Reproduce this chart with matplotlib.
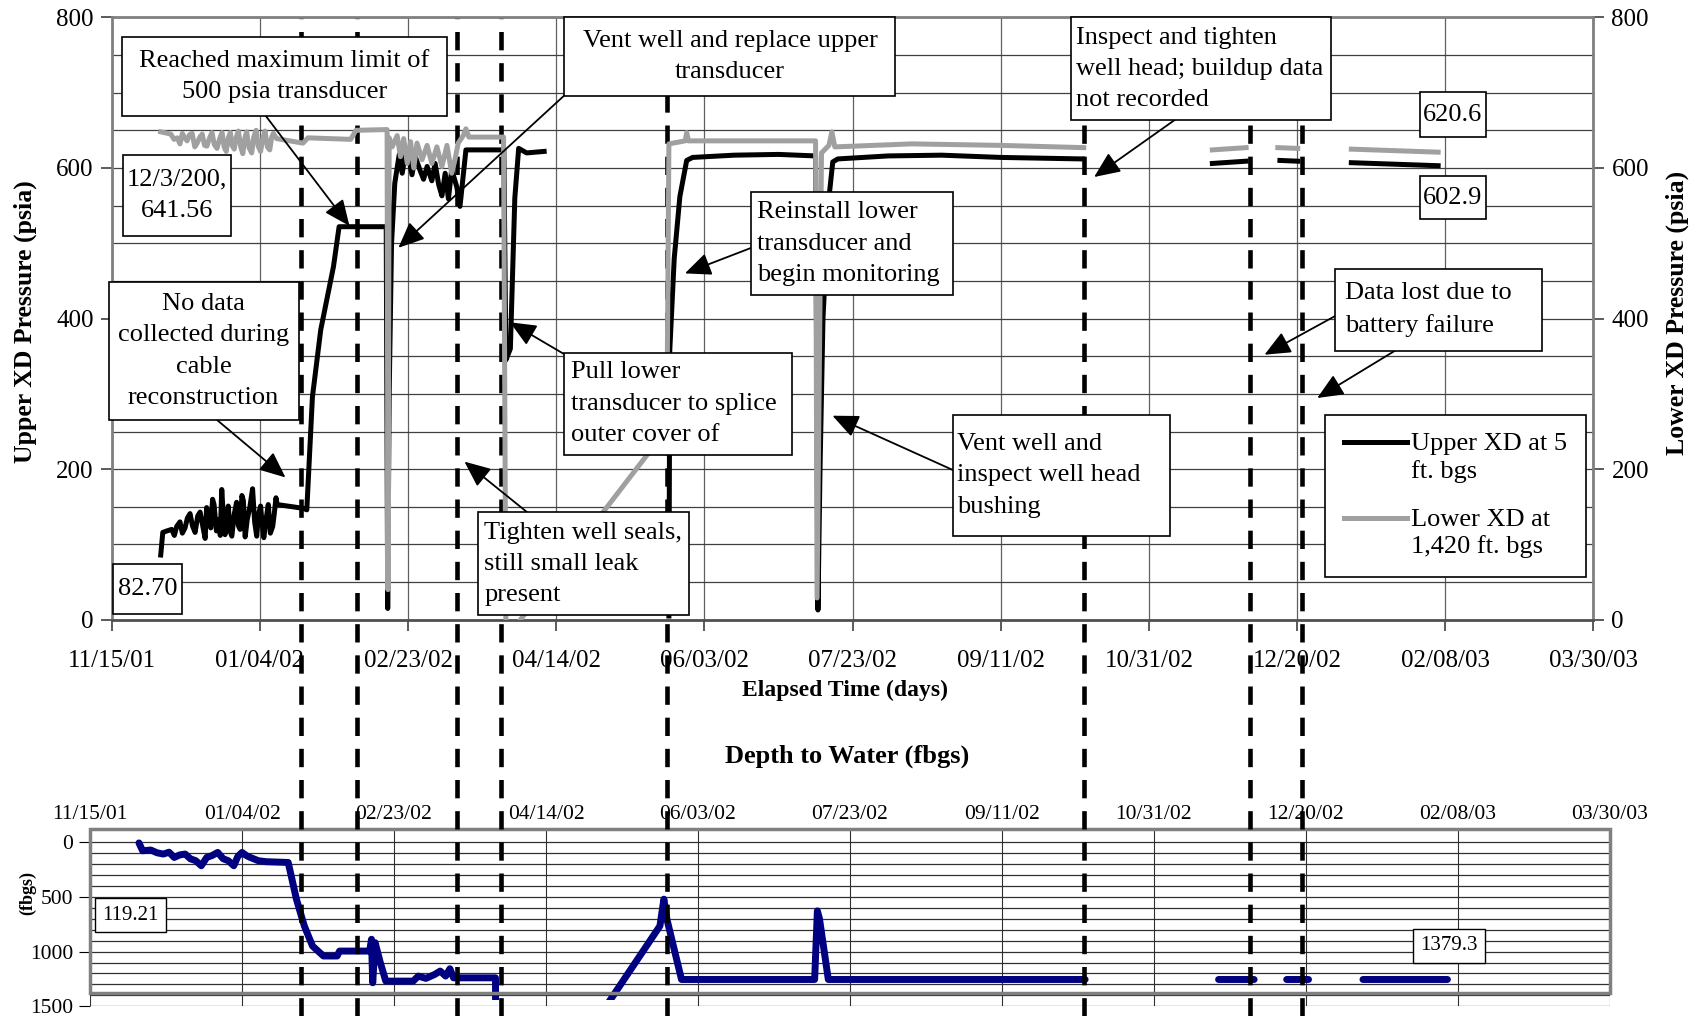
import numpy as np
import matplotlib.pyplot as plt
from matplotlib.lines import Line2D
from matplotlib.patches import Rectangle
from matplotlib.legend_handler import HandlerLine2D

plt.rcParams['font.family'] = ['Liberation Serif', 'DejaVu Serif']

nan = np.nan

# elapsed days since 11/15/01
date_labels = ['11/15/01', '01/04/02', '02/23/02', '04/14/02', '06/03/02', '07/23/02',
               '09/11/02', '10/31/02', '12/20/02', '02/08/03', '03/30/03']
date_ticks = list(range(0, 501, 50))

# Upper XD at 5 ft. bgs (psia)
upper_days = [16.5, 17.2, 18.6, 20.2, 21.1, 21.9, 23.0, 23.8, 24.7, 25.5, 26.4, 27.2, 28.1,
              29.0, 29.8, 30.9, 31.5, 32.0, 32.7, 33.4, 34.0, 34.5, 35.3, 36.0, 36.6, 37.1,
              37.6, 38.2, 38.8, 39.3, 39.9, 40.5, 41.3, 42.1, 42.7, 43.3, 43.9, 44.4, 45.0,
              45.7, 46.6, 47.5, 48.2, 48.9, 49.5, 50.2, 50.8, 51.3, 52.0, 52.8, 53.5, 54.3,
              54.8, 55.4, 55.8, 64.6, 65.8, 67.7, 70.5, 74.8, 76.7, 92.6, 93.1, 93.6,
              94.4, 95.5, 97.0, 98.0, 99.1, 100.2, 101.3, 102.4, 104.1, 105.2, 106.4, 108.0,
              109.1, 110.3, 111.4, 112.5, 113.6, 114.7, 116.4, 117.5, 119.5, 132.3, 133.0,
              134.5, 136.0, 137.3, 140.0, 145.9, nan,
              188.0, 188.3, 189.8, 191.7, 194.0, 196.0, 210.0, 225.0, 237.5, 238.3, 239.0,
              240.0, 242.0, 243.3, 245.0, 262.0, 280.0, 300.0, 327.5, nan,
              371.4, 382.8, nan, 394.2, 400.2, nan, 418.3, 447.6]
upper_psia = [86, 116, 118, 120, 112, 124, 130, 115, 122, 135, 141, 125, 116,
              138, 143, 120, 108, 149, 130, 122, 160, 153, 118, 133, 112, 173,
              140, 113, 128, 151, 118, 111, 140, 156, 125, 120, 165, 158, 110,
              133, 150, 174, 130, 111, 140, 151, 125, 109, 132, 153, 115, 124,
              140, 162, 153, 148, 146, 296, 385, 469, 522, 522, 15, 300,
              500, 580, 618, 593, 620, 615, 591, 615, 596, 585, 602, 583,
              606, 578, 563, 593, 559, 598, 575, 549, 624, 624, 345,
              360, 560, 626, 620, 622, nan,
              5, 358, 480, 562, 610, 614, 617, 618, 616, 13, 200,
              400, 560, 608, 612, 616, 617, 614, 612, nan,
              606, 609, nan, 610, 609, nan, 607, 603]

# Lower XD at 1,420 ft. bgs (psia)
lower_days = [16.5, 19.9, 21.0, 22.1, 23.0, 23.8, 24.6, 25.4, 26.2, 27.1, 28.0, 28.8, 29.7,
              30.5, 31.3, 32.1, 33.0, 33.8, 34.6, 35.5, 36.4, 37.2, 37.9, 38.6, 39.3, 40.0,
              40.6, 41.3, 42.0, 42.7, 43.5, 44.2, 44.9, 45.5, 46.3, 47.2, 47.9, 48.7, 49.4,
              50.2, 51.0, 51.7, 52.5, 53.3, 53.9, 54.5, 55.6, 64.5,
              66.2, 80.6, 82.4, 92.9, 93.2, 93.6, 94.6, 96.3, 97.4, 98.5, 99.7, 100.8, 101.9,
              103.0, 104.7, 106.4, 108.0, 109.7, 111.4, 113.1, 114.7, 115.8, 116.9, 118.6,
              119.5, 120.5, 132.2, 133.0, 187.3, 188.0, 193.5, 194.0, 194.6, 237.5, 238.0,
              239.5, 242.0, 243.0, 244.0, 270.0, 300.0, 328.0, nan,
              371.4, 382.8, nan, 393.5, 400.2, nan, 418.3, 447.6]
lower_psia = [648, 645, 638, 640, 632, 646, 640, 636, 644, 646, 628, 633, 641,
              645, 630, 629, 640, 647, 631, 626, 639, 647, 628, 622, 640, 647,
              630, 625, 641, 649, 628, 619, 640, 648, 627, 620, 641, 650, 629,
              622, 640, 649, 628, 624, 640, 646, 639, 633,
              640, 638, 650, 651, 40, 640, 628, 643, 615, 639, 606, 635, 600,
              633, 611, 630, 606, 628, 602, 630, 593, 611, 633, 643,
              652, 641, 641, -25, 253, 632, 636, 647, 636, 636, 29,
              620, 630, 648, 628, 632, 630, 627, nan,
              624, 627, nan, 627, 626, nan, 625, 621]

# Depth to water (fbgs)
depth_days = [16.1, 17.3, 20.0, 22.0, 24.1, 26.0, 27.7, 29.5, 31.3, 33.0, 34.8, 36.6, 38.4,
              40.2, 42.0, 43.8, 45.5, 47.3, 48.6, 50.0, 51.4, 52.7, 55.4, 58.0, 65.2, 67.9,
              70.5, 73.2, 76.8, 81.3, 82.1, 92.0, 92.6, 93.0, 93.8, 95.5, 97.3, 106.3, 108.0,
              110.5, 113.4, 115.2, 117.0, 118.4, 119.6, 133.4,
              133.6, 187.5, 188.8, 189.8, 194.6, 238.4, 239.3, 240.0, 242.9, 327.4, nan,
              371.3, 383.0, nan, 393.7, 400.9, nan, 418.8, 446.6]
depth_ft = [5, 77, 70, 95, 107, 90, 138, 115, 107, 150, 168, 214, 138,
            120, 92, 150, 168, 214, 130, 92, 120, 138, 168, 177, 184, 520,
            765, 949, 1040, 1040, 995, 995, 887, 1285, 918, 1100, 1270, 1270, 1224,
            1245, 1209, 1178, 1224, 1157, 1240, 1240,
            3000, 765, 520, 704, 1255, 1255, 627, 700, 1255, 1255, nan,
            1255, 1255, nan, 1255, 1255, nan, 1255, 1255]

# field events (days) marked with dashed lines
event_days = [63.7, 82.8, 116.5, 131.5, 187.2, 328.2, 384.2, 401.7]

fig = plt.figure(figsize=(17.02, 10.16), dpi=100)
ax_d = fig.add_axes([0.0529, 0.0096, 0.8929, 0.1742])
ax = fig.add_axes([0.0657, 0.3900, 0.8705, 0.5929])

# ---------------- pressure chart ----------------
ax.plot(upper_days, upper_psia, color='black', lw=3.6, zorder=3, solid_joinstyle='round')
ax.plot(lower_days, lower_psia, color='#a0a0a0', lw=3.6, zorder=4, solid_joinstyle='round')
ax.set_xlim(0, 500)
ax.set_ylim(0, 800)
ax.set_xticks(date_ticks)
ax.set_xticklabels(date_labels)
ax.set_yticks(range(0, 801, 200))
ax.set_yticks(range(0, 801, 50), minor=True)
ax.grid(which='both', axis='y', color='#404040', lw=0.9, zorder=0)
ax.grid(which='major', axis='x', color='#606060', lw=0.9, zorder=0)
ax.set_axisbelow(True)
ax.tick_params(which='minor', length=0)
ax.tick_params(which='major', direction='out', length=8, width=1.2, labelsize=18,
               right=True, labelright=True, color='#404040')
ax.tick_params(axis='x', pad=14)
ax.tick_params(axis='y', pad=5)
for s in ax.spines.values():
    s.set_color('#808080')
    s.set_linewidth(2)
ax.spines['bottom'].set_color('#505050')

for d in event_days:
    ax.axvline(d, ymin=-0.658, ymax=1, color='black', lw=3.3, ls=(0, (4, 2.8)),
               clip_on=False, zorder=2.5)

fig.text(0.4962, 0.3205, 'Elapsed Time (days)', ha='center', va='center',
         fontsize=17, fontweight='bold')
fig.text(0.0147, 0.683, 'Upper XD Pressure (psia)', rotation=90, ha='center', va='center',
         fontsize=18.5, fontweight='bold')
fig.text(0.9853, 0.692, 'Lower XD Pressure (psia)', rotation=90, ha='center', va='center',
         fontsize=18.5, fontweight='bold')

fs = 19
arrow = dict(arrowstyle='-|>,head_length=0.8,head_width=0.35', color='black', lw=1.3,
             shrinkA=0, shrinkB=0, mutation_scale=20)

# main plot area in reference pixels: x 103..1468, y 16..571
def fx(px):
    return (px - 103) / 1365


def fy(py):
    return (571 - py) / 555


def note(x0, x1, y0, y1, text, tx=None):
    ax.add_patch(Rectangle((fx(x0), fy(y1)), fx(x1) - fx(x0), fy(y0) - fy(y1),
                           transform=ax.transAxes, fc='white', ec='black', lw=1.2,
                           zorder=10, clip_on=False))
    if tx is None:
        ax.text(fx((x0 + x1) / 2), fy((y0 + y1) / 2), text, transform=ax.transAxes,
                ha='center', va='center', fontsize=fs, linespacing=1.55, zorder=11)
    else:
        ax.text(fx(tx), fy((y0 + y1) / 2), text, transform=ax.transAxes,
                ha='left', va='center', fontsize=fs, linespacing=1.55, zorder=11)


def pointer(px, py, day, val):
    ax.annotate('', xy=(day, val), xycoords='data', xytext=(fx(px), fy(py)),
                textcoords='axes fraction', arrowprops=arrow, zorder=9)


pointer(245, 107, 80.2, 523)
note(112, 412, 34, 107, 'Reached maximum limit of\n500 psia transducer')
pointer(522, 86, 96.7, 494)
note(520, 825, 16, 88, 'Vent well and replace upper\ntransducer')
note(113, 213, 143, 217, '12/3/200,\n641.56')
pointer(200, 387, 58.6, 189)
note(100, 275, 260, 387, 'No data\ncollected during\ncable\nreconstruction')
note(104, 168, 520, 566, '82.70')
pointer(521, 327, 134.4, 395)
note(520, 730, 325, 419, 'Pull lower\ntransducer to splice\nouter cover of', tx=526)
pointer(487, 473, 119.0, 210)
note(440, 635, 472, 567, 'Tighten well seals,\nstill small leak\npresent', tx=446)
pointer(693, 228, 193.4, 460)
note(692, 878, 177, 272, 'Reinstall lower\ntransducer and\nbegin monitoring', tx=697)
pointer(880, 434, 243.2, 271)
note(878, 1078, 382, 494, 'Vent well and\ninspect well head\nbushing', tx=882)
pointer(1083, 110, 331.5, 588)
note(987, 1226, 16, 111, 'Inspect and tighten\nwell head; buildup data\nnot recorded', tx=991)
note(1308, 1369, 85, 126, '620.6')
note(1308, 1369, 162, 202, '602.9')
pointer(1234, 289, 389.0, 352)
pointer(1287, 322, 406.8, 294.5)
note(1230, 1421, 248, 323, 'Data lost due to\nbattery failure', tx=1239)


class FirstLineHandler(HandlerLine2D):
    # put the legend sample next to the first line of a two-line label
    def create_artists(self, *args, **kwargs):
        artists = super().create_artists(*args, **kwargs)
        for a in artists:
            a.set_ydata(np.asarray(a.get_ydata()) + 11)
        return artists


handles = [Line2D([], [], color='black', lw=3.6), Line2D([], [], color='#a0a0a0', lw=3.6)]
leg = ax.legend(handles, ['Upper XD at 5\nft. bgs', 'Lower XD at\n1,420 ft. bgs'],
                loc='upper left', bbox_to_anchor=(fx(1221), fy(382)), borderaxespad=0,
                fontsize=fs, frameon=True, fancybox=False, edgecolor='black', framealpha=1,
                handlelength=2.4, handletextpad=0.15, borderpad=0.7, labelspacing=1.0,
                handler_map={Line2D: FirstLineHandler()})
leg.get_frame().set_linewidth(1.2)
leg.set_zorder(10)
for t in leg.get_texts():
    t.set_linespacing(1.25)

# ---------------- depth chart ----------------
line, = ax_d.plot(depth_days, depth_ft, color='#000080', lw=5, solid_capstyle='round',
                  solid_joinstyle='round', zorder=3)
line.set_clip_path(Rectangle((0, -120), 500, 1560, transform=ax_d.transData))
ax_d.set_xlim(0, 500)
ax_d.set_ylim(1500, -120)
ax_d.xaxis.tick_top()
ax_d.set_xticks(date_ticks)
ax_d.set_xticklabels(date_labels)
ax_d.set_yticks([0, 500, 1000, 1500])
ax_d.set_yticks(range(0, 1501, 100), minor=True)
ax_d.grid(which='both', axis='y', color='#303030', lw=0.9)
ax_d.grid(which='major', axis='x', color='#303030', lw=0.8)
ax_d.tick_params(axis='x', length=0, labelsize=15.5, pad=4)
ax_d.tick_params(axis='y', which='major', length=8, labelsize=15.5, pad=4)
ax_d.tick_params(axis='y', which='minor', length=0)
for s in ax_d.spines.values():
    s.set_visible(False)
ax_d.add_patch(Rectangle((0, 0.074), 1, 0.926, transform=ax_d.transAxes, fill=False,
                         ec='#808080', lw=2.5, clip_on=False, zorder=4))
small_box = dict(boxstyle='square,pad=0.35', fc='white', ec='black', lw=1)
ax_d.text(0.0264, 0.515, '119.21', transform=ax_d.transAxes, ha='center', va='center',
          fontsize=15, bbox=small_box, zorder=6)
ax_d.text(0.894, 0.341, '1379.3', transform=ax_d.transAxes, ha='center', va='center',
          fontsize=15, bbox=small_box, zorder=6)
fig.text(0.498, 0.2553, 'Depth to Water (fbgs)', ha='center', va='center',
         fontsize=19, fontweight='bold')
fig.text(0.016, 0.121, '(fbgs)', rotation=90, ha='center', va='center',
         fontsize=13, fontweight='bold')

fig.savefig('out.png', dpi=100)
